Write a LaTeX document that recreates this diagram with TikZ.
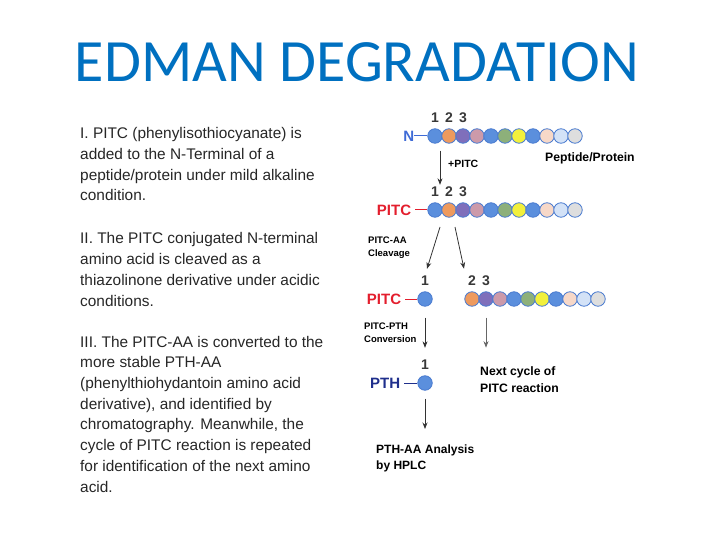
\documentclass[tikz,border=0pt]{standalone}
\usepackage{fontspec}
\setmainfont{Liberation Sans}
\newfontfamily\titlefont{Carlito}
\usetikzlibrary{arrows.meta,positioning}

% colours
\definecolor{titleblue}{HTML}{0070C0}
\definecolor{nblue}{HTML}{3F6BD6}
\definecolor{pitcred}{HTML}{E31E2D}
\definecolor{pthnavy}{HTML}{1F2F8C}
\definecolor{aaline}{HTML}{4A7BD0}
\definecolor{aablue}{HTML}{5B8FDD}
\definecolor{aaorange}{HTML}{EE9A5E}
\definecolor{aapurple}{HTML}{7F6FBB}
\definecolor{aamauve}{HTML}{CC9AAA}
\definecolor{aagreen}{HTML}{8DB07A}
\definecolor{aayellow}{HTML}{F2F03C}
\definecolor{aapeach}{HTML}{F7D8C8}
\definecolor{aalight}{HTML}{D3E2F7}
\definecolor{aagray}{HTML}{DEDEDE}

\tikzset{
  aa/.style={circle, draw=aaline, line width=0.8pt, minimum size=14.5pt, inner sep=0pt},
  num/.style={font=\fontsize{14}{14}\selectfont\bfseries, text=black!78, inner sep=1pt},
  endlab/.style={font=\fontsize{15}{15}\selectfont\bfseries, inner sep=0pt},
  steplab/.style={font=\fontsize{9.5}{13}\selectfont\bfseries, align=left, inner sep=0pt, anchor=north west},
  note/.style={font=\fontsize{12.2}{17}\selectfont\bfseries, align=left, inner sep=0pt, anchor=north west},
  body/.style={font=\fontsize{15.4}{20.7}\selectfont, text=black!85, align=left, inner sep=0pt, anchor=base west},
  arr/.style={-{Stealth[length=6.5pt,width=5pt]}, line width=0.8pt, black!80},
}

\begin{document}
\begin{tikzpicture}[x=1pt, y=-1pt]
\useasboundingbox (0,0) rectangle (720,540);

% Titel
\node[font=\titlefont\fontsize{60}{60}\selectfont, text=titleblue, anchor=base] (title) at (357,82) {EDMAN DEGRADATION};

% Text links (base = last line)
\node[body] (stepI) at (80,201) {I. PITC (phenylisothiocyanate) is\\added to the N-Terminal of a\\peptide/protein under mild alkaline\\condition.};
\node[body] (stepII) at (80,306) {II. The PITC conjugated N-terminal\\amino acid is cleaved as a\\thiazolinone derivative under acidic\\conditions.};
\node[body] (stepIII) at (80,492) {III. The PITC-AA is converted to the\\more stable PTH-AA\\(phenylthiohydantoin amino acid\\derivative), and identified by\\chromatography. Meanwhile, the\\cycle of PITC reaction is repeated\\for identification of the next amino\\acid.};

% Peptid
\foreach \c [count=\i] in {aablue,aaorange,aapurple,aamauve,aablue,aagreen,aayellow,aablue,aapeach,aalight,aagray}
  \node[aa, fill=\c] (p\i) at ({421+14*\i},136) {};
\foreach \i in {1,2,3}
  \node[num, above=4.5pt of p\i] (pn\i) {\i};
\node[endlab, text=nblue, left=13pt of p1] (nterm) {N};
\draw[nblue, line width=1pt] (nterm) -- (p1);
\node[font=\fontsize{12.2}{12}\selectfont\bfseries, inner sep=0pt, anchor=west] (prot) at (545,158) {Peptide/Protein};

% PITC-Peptid
\foreach \c [count=\i] in {aablue,aaorange,aapurple,aamauve,aablue,aagreen,aayellow,aablue,aapeach,aalight,aagray}
  \node[aa, fill=\c] (q\i) at ({421+14*\i},210) {};
\foreach \i in {1,2,3}
  \node[num, above=4.5pt of q\i] (qn\i) {\i};
\node[endlab, text=pitcred, left=16pt of q1] (pitcA) {PITC};
\draw[pitcred, line width=1pt, shorten <=4pt] (pitcA) -- (q1);
\draw[arr, shorten <=7pt, shorten >=1pt] ([xshift=5pt]p1.south) -- ([xshift=5pt]qn1.north);
\node[font=\fontsize{10.5}{10}\selectfont\bfseries, inner sep=0pt, anchor=west] (addpitc) at (448,164) {+PITC};

% Spaltung
\node[aa, fill=aablue] (r1) at (425,299) {};
\foreach \c [count=\i from 2] in {aaorange,aapurple,aamauve,aablue,aagreen,aayellow,aablue,aapeach,aalight,aagray}
  \node[aa, fill=\c] (r\i) at ({444+14*\i},299) {};
\node[num, above=4.5pt of r1] (rn1) {1};
\node[num, above=4.5pt of r2] (rn2) {2};
\node[num, above=4.5pt of r3] (rn3) {3};
\node[endlab, text=pitcred, left=16pt of r1] (pitcB) {PITC};
\draw[pitcred, line width=1pt, shorten <=4pt] (pitcB) -- (r1);
\coordinate (cutA) at (440,227);
\coordinate (cutB) at (455,227);
\draw[arr] (cutA) -- ([shift={(2pt,6pt)}]rn1.north);
\draw[arr] (cutB) -- ([shift={(-8pt,6pt)}]rn2.north);
\node[steplab] (cleave) at (368,237) {PITC-AA\\Cleavage};

% Umwandlung
\node[aa, fill=aablue] (s1) at (425,383) {};
\node[num, above=4.5pt of s1] (sn1) {1};
\node[endlab, text=pthnavy, left=17pt of s1] (pth) {PTH};
\draw[pthnavy, line width=1pt, shorten <=4pt] (pth) -- (s1);
\draw[arr, shorten <=11pt, shorten >=11pt] (r1.south) -- (sn1.north);
\draw[arr, black!60, shorten <=11pt] (r3.south) -- ([yshift=-41pt]r3.south);
\node[steplab] (convert) at (364,323) {PITC-PTH\\Conversion};
\node[note] (next) at (480,366) {Next cycle of\\PITC reaction};

% HPLC
\node[note, font=\fontsize{12}{16}\selectfont\bfseries] (hplc) at (376,445) {PTH-AA Analysis\\by HPLC};
\draw[arr, shorten <=8pt, shorten >=16pt] (s1.south) -- (s1.south |- hplc.north);

\end{tikzpicture}
\end{document}
